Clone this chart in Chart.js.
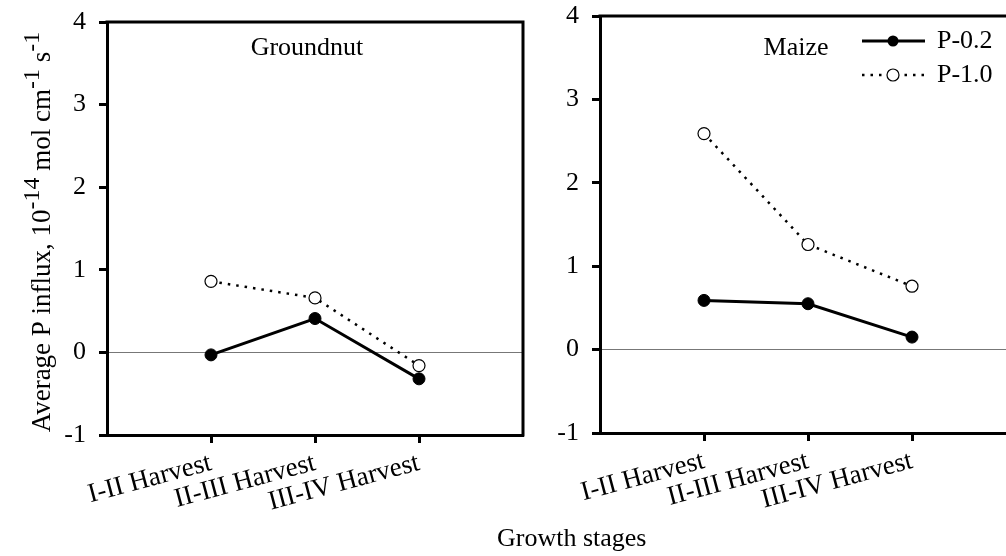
<!DOCTYPE html>
<html>
<head>
<meta charset="utf-8">
<script src="https://cdn.jsdelivr.net/npm/chart.js@4"></script>
<style>
  html, body { margin: 0; padding: 0; background: #fff; }
  body { width: 1006px; height: 556px; overflow: hidden; position: relative; }
  .panel { position: absolute; top: 0; height: 556px; }
  #leftBox { left: 0; width: 540px; }
  #rightBox { left: 494px; width: 546px; }
  #xTitle { position: absolute; left: 497px; top: 525px; font: 26px "Liberation Serif"; line-height: 1; color: #000; white-space: nowrap; }
</style>
</head>
<body>
<div class="panel" id="leftBox"><canvas id="groundnutChart"></canvas></div>
<div class="panel" id="rightBox"><canvas id="maizeChart"></canvas></div>
<div id="xTitle">Growth stages</div>
<script>
// stages and values
var categories = ['I-II Harvest', 'II-III Harvest', 'III-IV Harvest'];
var seriesNames = ['P-0.2', 'P-1.0'];
var groundnutP02 = [-0.03, 0.41, -0.32];
var groundnutP10 = [0.86, 0.66, -0.16];
var maizeP02 = [0.59, 0.55, 0.15];
var maizeP10 = [2.59, 1.26, 0.76];
var yTicks = [-1, 0, 1, 2, 3, 4];

var FONT = 'Liberation Serif';

function points(values) {
    return values.map((v, i) => ({ x: i + 1, y: v }));
}

function makeDatasets(p02, p10) {
    return [{
        label: seriesNames[0],
        data: points(p02),
        borderColor: '#000',
        borderWidth: 3,
        pointRadius: 6,
        pointBackgroundColor: '#000',
        pointBorderColor: '#000',
        pointBorderWidth: 1
    }, {
        label: seriesNames[1],
        data: points(p10),
        borderColor: '#000',
        borderWidth: 2.5,
        borderDash: [2.5, 6],
        pointRadius: 6,
        pointBackgroundColor: '#fff',
        pointBorderColor: '#000',
        pointBorderWidth: 1.2
    }];
}

// top + right edge of the plot frame
var framePlugin = {
    id: 'frame',
    afterDraw(chart) {
        var a = chart.chartArea, c = chart.ctx;
        c.save();
        c.strokeStyle = '#000';
        c.lineWidth = 3;
        c.beginPath();
        c.moveTo(a.left - 1.5, a.top);
        c.lineTo(a.right, a.top);
        c.lineTo(a.right, a.bottom + 1.5);
        c.stroke();
        c.restore();
    }
};

// crop name inside the panel
var cropLabel = {
    id: 'cropLabel',
    afterDraw(chart, args, opts) {
        var c = chart.ctx;
        c.save();
        c.font = '26px "' + FONT + '"';
        c.fillStyle = '#000';
        c.textAlign = 'center';
        c.textBaseline = 'middle';
        c.fillText(opts.text, opts.x, opts.y);
        c.restore();
    }
};

// rotated y title with superscripts
var yTitlePlugin = {
    id: 'yTitle',
    afterDraw(chart) {
        var c = chart.ctx;
        var parts = [
            ['Average P influx, 10', false], ['-14', true], [' mol cm', false],
            ['-1', true], [' s', false], ['-1', true]
        ];
        var main = '27px "' + FONT + '"', sup = '24px "' + FONT + '"';
        var total = 0;
        parts.forEach(p => { c.font = p[1] ? sup : main; total += c.measureText(p[0]).width; });
        c.save();
        c.translate(50, 232);
        c.rotate(-Math.PI / 2);
        c.fillStyle = '#000';
        c.textBaseline = 'alphabetic';
        var x = -total / 2;
        parts.forEach(p => {
            c.font = p[1] ? sup : main;
            c.fillText(p[0], x, p[1] ? -11 : 0);
            x += c.measureText(p[0]).width;
        });
        c.restore();
    }
};

// legend drawn in the maize panel
var legendPlugin = {
    id: 'pLegend',
    afterDraw(chart) {
        var c = chart.ctx;
        var x0 = 368, x1 = 431, xm = 399, tx = 443;
        var rows = [41, 75];
        c.save();
        c.strokeStyle = '#000';
        c.fillStyle = '#000';
        // solid row
        c.lineWidth = 3;
        c.beginPath(); c.moveTo(x0, rows[0]); c.lineTo(x1, rows[0]); c.stroke();
        c.beginPath(); c.arc(xm, rows[0], 5.5, 0, Math.PI * 2); c.fill();
        // dotted row
        c.lineWidth = 2.5;
        c.setLineDash([2.5, 6]);
        c.beginPath(); c.moveTo(x0, rows[1]); c.lineTo(x1, rows[1]); c.stroke();
        c.setLineDash([]);
        c.fillStyle = '#fff';
        c.lineWidth = 1.2;
        c.beginPath(); c.arc(xm, rows[1], 6, 0, Math.PI * 2); c.fill(); c.stroke();
        c.fillStyle = '#000';
        c.font = '26px "' + FONT + '"';
        c.textBaseline = 'middle';
        c.fillText(seriesNames[0], tx, rows[0]);
        c.fillText(seriesNames[1], tx, rows[1]);
        c.restore();
    }
};

function makeOptions(pad, yWidth, xHeight, label) {
    return {
        responsive: true,
        maintainAspectRatio: false,
        animation: false,
        events: [],
        layout: { padding: pad },
        scales: {
            x: {
                type: 'linear',
                min: 0,
                max: 4,
                afterBuildTicks: scale => { scale.ticks = categories.map((c, i) => ({ value: i + 1 })); },
                afterFit: scale => { scale.height = xHeight; scale.paddingLeft = 0; scale.paddingRight = 0; },
                ticks: {
                    autoSkip: false,
                    minRotation: 15,
                    maxRotation: 15,
                    padding: 4,
                    color: '#000',
                    font: { family: FONT, size: 27 },
                    callback: v => categories[v - 1]
                },
                grid: { drawOnChartArea: false, tickLength: 8, tickColor: '#000', tickWidth: 3 },
                border: { display: true, color: '#000', width: 3 }
            },
            y: {
                min: -1,
                max: 4,
                afterBuildTicks: scale => { scale.ticks = yTicks.map(v => ({ value: v })); },
                afterFit: scale => { scale.width = yWidth; scale.paddingTop = 0; scale.paddingBottom = 0; },
                ticks: {
                    padding: 13,
                    color: '#000',
                    font: { family: FONT, size: 26 }
                },
                grid: {
                    color: ctx => ctx.tick && ctx.tick.value === 0 ? '#777' : 'rgba(0,0,0,0)',
                    lineWidth: 1,
                    tickLength: 8,
                    tickColor: '#000',
                    tickWidth: 3
                },
                border: { display: true, color: '#000', width: 3 }
            }
        },
        plugins: {
            legend: { display: false },
            tooltip: { enabled: false },
            cropLabel: label
        }
    };
}

new Chart(document.getElementById('groundnutChart').getContext('2d'), {
    type: 'line',
    data: { datasets: makeDatasets(groundnutP02, groundnutP10) },
    options: makeOptions({ top: 22, right: 17, bottom: 0, left: 0 }, 107, 121, { text: 'Groundnut', x: 307, y: 48 }),
    plugins: [framePlugin, cropLabel, yTitlePlugin]
});

new Chart(document.getElementById('maizeChart').getContext('2d'), {
    type: 'line',
    data: { datasets: makeDatasets(maizeP02, maizeP10) },
    options: makeOptions({ top: 16, right: 24, bottom: 0, left: 0 }, 106, 123, { text: 'Maize', x: 302, y: 48 }),
    plugins: [framePlugin, cropLabel, legendPlugin]
});
</script>
</body>
</html>
